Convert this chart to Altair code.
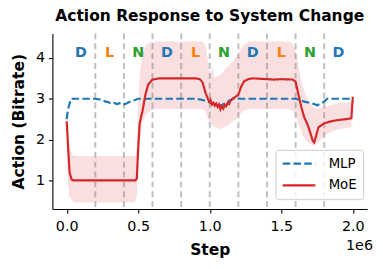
import altair as alt
import pandas as pd

# ---- data (x in units of 1e6 steps) ----
mlp_x = [0.0, 0.01, 0.03, 0.1, 0.2, 0.25, 0.27, 0.29, 0.31, 0.33, 0.35, 0.37, 0.39, 0.41, 0.43, 0.46, 0.5,
         0.6, 0.8, 0.9, 0.95, 0.98, 1.0, 1.03, 1.06, 1.08, 1.1, 1.13, 1.16, 1.3, 1.5, 1.6, 1.63, 1.66, 1.7,
         1.73, 1.75, 1.77, 1.8, 1.82, 2.0]
mlp_y = [2.5, 2.75, 3.0, 3.0, 3.0, 2.97, 2.93, 2.92, 2.88, 2.9, 2.87, 2.89, 2.86, 2.87, 2.91, 2.95, 3.0,
         3.0, 3.0, 3.0, 2.97, 2.94, 2.91, 2.88, 2.86, 2.83, 2.88, 2.94, 3.0, 3.0, 3.0, 3.0, 2.97, 2.93, 2.9,
         2.87, 2.84, 2.87, 2.93, 3.0, 3.0]

moe_x = [0.0, 0.01, 0.02, 0.035, 0.05, 0.48, 0.49, 0.5, 0.51, 0.53, 0.55, 0.57, 0.6, 0.65, 0.9, 0.93, 0.95,
         0.97, 0.99, 1.0, 1.005, 1.015, 1.025, 1.035, 1.045, 1.055, 1.065, 1.075, 1.085, 1.095, 1.105, 1.115,
         1.125, 1.135, 1.145, 1.16, 1.18, 1.2, 1.22, 1.24, 1.27, 1.3, 1.45, 1.5, 1.58, 1.6, 1.62, 1.64, 1.66,
         1.68, 1.7, 1.72, 1.73, 1.74, 1.76, 1.78, 1.8, 1.82, 1.85, 1.9, 1.95, 1.99, 2.0]
moe_y = [2.45, 1.8, 1.2, 1.02, 1.0, 1.0, 1.05, 1.8, 2.4, 2.7, 3.1, 3.35, 3.47, 3.5, 3.5, 3.48, 3.4,
         3.15, 2.97, 2.92, 2.97, 2.86, 2.9, 2.83, 2.88, 2.8, 2.86, 2.74, 2.82, 2.76, 2.85, 2.82, 2.9,
         2.87, 2.95, 3.0, 3.05, 3.1, 3.3, 3.43, 3.48, 3.5, 3.47, 3.48, 3.47, 3.42, 3.1, 2.8, 2.55,
         2.4, 2.2, 1.97, 1.93, 2.05, 2.3, 2.35, 2.4, 2.42, 2.45, 2.48, 2.5, 2.52, 3.05]

band_x = [0.0, 0.01, 0.02, 0.04, 0.06, 0.46, 0.48, 0.49, 0.5, 0.51, 0.53, 0.55, 0.58, 0.62, 0.95, 0.97,
          0.99, 1.0, 1.02, 1.03, 1.05, 1.08, 1.1, 1.13, 1.16, 1.2, 1.23, 1.27, 1.55, 1.58, 1.6, 1.62, 1.65,
          1.68, 1.72, 1.75, 1.8, 1.85, 1.9, 1.99]
band_lo = [2.2, 0.9, 0.6, 0.5, 0.46, 0.46, 0.5, 0.6, 1.2, 1.9, 2.4, 2.6, 2.7, 2.75, 2.75, 2.7,
           2.5, 2.4, 2.35, 2.3, 2.3, 2.25, 2.3, 2.35, 2.45, 2.55, 2.7, 2.75, 2.75, 2.7, 2.6, 2.4, 2.1,
           1.95, 1.85, 1.9, 2.1, 2.2, 2.25, 2.3]
band_hi = [2.7, 2.3, 1.8, 1.62, 1.6, 1.6, 1.6, 1.8, 2.8, 3.6, 4.1, 4.3, 4.38, 4.4, 4.4, 4.3,
           3.9, 3.6, 3.8, 3.5, 3.55, 3.6, 3.7, 3.8, 3.9, 4.1, 4.3, 4.4, 4.4, 4.35, 4.2, 3.8, 3.3,
           3.0, 2.8, 2.75, 2.8, 2.85, 2.9, 2.9]

boundaries = [0.2, 0.4, 0.6, 0.8, 1.0, 1.2, 1.4, 1.6, 1.8]
phase_x = [0.1, 0.3, 0.5, 0.7, 0.9, 1.1, 1.3, 1.5, 1.7, 1.9]
phase_label = ["D", "L", "N", "D", "L", "N", "D", "L", "N", "D"]
phase_y = 4.12

models = ["MLP", "MoE"]
model_colors = ["#1f77b4", "#d62728"]
phase_color_map = {"D": "#1f77b4", "L": "#ff7f0e", "N": "#2ca02c"}

x_ticks = [0.0, 0.5, 1.0, 1.5, 2.0]
y_ticks = [1, 2, 3, 4]

FONT = "DejaVu Sans"

lines_df = pd.DataFrame({
    "step": mlp_x + moe_x,
    "value": mlp_y + moe_y,
    "model": ["MLP"] * len(mlp_x) + ["MoE"] * len(moe_x),
})
band_df = pd.DataFrame({"step": band_x, "lo": band_lo, "hi": band_hi})
bound_df = pd.DataFrame({"step": boundaries})
phase_df = pd.DataFrame({"step": phase_x, "label": phase_label, "y": [phase_y] * len(phase_x),
                         "col": [phase_color_map[p] for p in phase_label]})

xscale = alt.Scale(domain=[-0.1, 2.1], nice=False, zero=False)
yscale = alt.Scale(domain=[0.3, 4.6], nice=False, zero=False)

xaxis = alt.Axis(values=x_ticks, format=".1f", title="Step", grid=False)
yaxis = alt.Axis(values=y_ticks, format="d", title="Action (Bitrate)", grid=False)

band = alt.Chart(band_df).mark_area(color="#d62728", opacity=0.15).encode(
    x=alt.X("step:Q", scale=xscale, axis=xaxis),
    y=alt.Y("lo:Q", scale=yscale, axis=yaxis),
    y2="hi:Q",
)

vlines = alt.Chart(bound_df).mark_rule(color="#808080", opacity=0.5, strokeWidth=2,
                                        strokeDash=[6, 4]).encode(
    x=alt.X("step:Q", scale=xscale),
)

leg = alt.Legend(title=None, orient="none", legendX=226, legendY=118,
                 symbolType="stroke", symbolSize=1089, symbolStrokeWidth=2.2,
                 clipHeight=16, rowPadding=6, labelOffset=12, padding=6,
                 labelFontSize=13.5, labelFont=FONT, labelColor="black",
                 fillColor="rgba(255,255,255,0.8)", strokeColor="#cccccc",
                 cornerRadius=3)

lines = alt.Chart(lines_df).mark_line(strokeWidth=2.2).encode(
    x=alt.X("step:Q", scale=xscale),
    y=alt.Y("value:Q", scale=yscale),
    color=alt.Color("model:N", scale=alt.Scale(domain=models, range=model_colors), legend=leg),
    strokeDash=alt.StrokeDash("model:N", scale=alt.Scale(domain=models, range=[[7.6, 3.3], [1, 0]]),
                              legend=leg),
    order=alt.Order("step:Q"),
)

letters = alt.Chart(phase_df).mark_text(fontWeight="bold", fontSize=14.5, font=FONT,
                                        baseline="middle", align="center").encode(
    x=alt.X("step:Q", scale=xscale),
    y=alt.Y("y:Q", scale=yscale),
    text="label:N",
    color=alt.Color("col:N", scale=None),
)

offset_text = alt.Chart(pd.DataFrame({"t": ["1e6"]})).mark_text(
    fontSize=14.5, font=FONT, align="right", baseline="middle", color="black").encode(
    x=alt.value(325), y=alt.value(216), text="t:N")

chart = alt.layer(band, vlines, lines, letters, offset_text).properties(
    width=319, height=178,
    title=alt.Title("Action Response to System Change", font=FONT, fontSize=15.7, fontWeight="bold",
                    color="black", anchor="middle", offset=8),
    autosize=alt.AutoSizeParams(type="none"),
    padding={"left": 45, "top": 24, "right": 8, "bottom": 58},
).configure_view(stroke=None).configure_axis(
    labelFont=FONT, titleFont=FONT, labelFontSize=14.5, titleFontSize=15.7, titleFontWeight="bold",
    labelColor="black", titleColor="black", domainColor="black", tickColor="black",
    domainWidth=1.1, tickWidth=1.1, tickSize=4,
).configure_axisX(labelPadding=7, titlePadding=10).configure_axisY(labelPadding=4, titlePadding=9)

chart.save("out.html", embed_options={"renderer": "svg", "actions": False})
